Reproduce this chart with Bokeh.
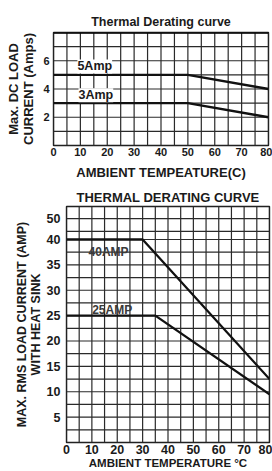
from bokeh.plotting import figure
from bokeh.models import FixedTicker, ColumnDataSource, LabelSet
from bokeh.core.properties import value
from bokeh.embed import file_html
from bokeh.resources import INLINE

FONT = "Liberation Sans"
INK = "#1a1a1a"
GRID = "#2a2a2a"

# ---------------- Chart 1 : DC load ----------------
dc_temp = [0, 50, 80]
dc_5amp = [5, 5, 4]
dc_3amp = [3, 3, 2]
dc_label_text = ["5Amp", "3Amp"]
dc_label_x = [8.9, 9.3]
dc_label_y = [5.6, 3.55]
dc_xticks = [0, 10, 20, 30, 40, 50, 60, 70, 80]
dc_yticks = [2, 4, 6]
dc_xgrid = [0, 5, 10, 15, 20, 25, 30, 35, 40, 45, 50, 55, 60, 65, 70, 75, 80]
dc_ygrid = [0, 1, 2, 3, 4, 5, 6, 7, 8]
dc_xlim = (0, 80)
dc_ylim = (0, 8)

# ---------------- Chart 2 : RMS load with heat sink ----------------
rms_temp_40 = [0, 30, 80]
rms_40amp = [40, 40, 12.5]
rms_temp_25 = [0, 35, 80]
rms_25amp = [25, 25, 9.5]
rms_label_text = ["40AMP", "25AMP"]
rms_label_x = [8.7, 10.1]
rms_label_y = [37.6, 26.1]
rms_xticks = [0, 10, 20, 30, 40, 50, 60, 70, 80]
rms_yticks = [5, 10, 15, 20, 25, 30, 35, 40, 44.1]
rms_ytick_labels = ["5", "10", "15", "20", "25", "30", "35", "40", "50"]
rms_xgrid = [0, 5, 10, 15, 20, 25, 30, 35, 40, 45, 50, 55, 60, 65, 70, 75, 80]
rms_ygrid = [0, 2.5, 5, 7.5, 10, 12.5, 15, 17.5, 20, 22.5, 25, 27.5, 30,
             32.5, 35, 37.5, 40, 41.6, 44.1, 46.5]
rms_xlim = (0, 80)
rms_ylim = (0, 46.5)


def style(p, title_size, tick_size, label_size):
    p.background_fill_color = "white"
    p.border_fill_color = "white"
    p.outline_line_color = INK
    p.outline_line_width = 1.4
    p.title.align = "center"
    p.title.text_font = FONT
    p.title.text_font_style = "bold"
    p.title.text_font_size = title_size
    p.title.text_color = INK
    p.grid.visible = False
    for ax in (p.xaxis, p.yaxis):
        ax.axis_line_color = None
        ax.major_tick_line_color = None
        ax.minor_tick_line_color = None
        ax.major_tick_out = 0
        ax.major_tick_in = 0
        ax.major_label_text_font = FONT
        ax.major_label_text_font_style = "bold"
        ax.major_label_text_font_size = tick_size
        ax.major_label_text_color = INK
        ax.axis_label_text_font = FONT
        ax.axis_label_text_font_style = "bold"
        ax.axis_label_text_font_size = label_size
        ax.axis_label_text_color = INK
        ax.axis_label_text_line_height = 1.0


def draw_grid(p, xgrid, ygrid, xlim, ylim):
    p.segment(x0=xgrid, x1=xgrid, y0=ylim[0], y1=ylim[1],
              line_color=GRID, line_width=1.2)
    p.segment(x0=xlim[0], x1=xlim[1], y0=ygrid, y1=ygrid,
              line_color=GRID, line_width=1.2)


# ---- figure 1
p1 = figure(width=272, height=182, x_range=dc_xlim, y_range=dc_ylim,
            output_backend="svg", toolbar_location=None,
            min_border_left=53, min_border_right=4,
            min_border_top=32, min_border_bottom=37,
            title="Thermal Derating curve")
style(p1, "12.5px", "11px", "13px")
p1.title.standoff = 7
p1.xaxis.ticker = FixedTicker(ticks=dc_xticks)
p1.yaxis.ticker = FixedTicker(ticks=dc_yticks)
p1.xaxis.major_label_standoff = 2
p1.yaxis.major_label_standoff = 4
p1.xaxis.axis_label_standoff = 6
p1.yaxis.axis_label_standoff = 4
p1.xaxis.axis_label = "AMBIENT TEMPEATURE(C)"
p1.yaxis.axis_label = "Max. DC LOAD\nCURRENT (Amps)"

draw_grid(p1, dc_xgrid, dc_ygrid, dc_xlim, dc_ylim)
# heavier top border of the upper chart
p1.segment(x0=dc_xlim[0], x1=dc_xlim[1], y0=dc_ylim[1], y1=dc_ylim[1],
           line_color="#000000", line_width=2.6)
p1.line(dc_temp, dc_5amp, line_color="#111111", line_width=2.3)
p1.line(dc_temp, dc_3amp, line_color="#111111", line_width=2.3)
src1 = ColumnDataSource(dict(x=dc_label_x, y=dc_label_y, t=dc_label_text))
p1.add_layout(LabelSet(x="x", y="y", text="t", source=src1,
                       text_font=value(FONT),
                       text_font_style="bold", text_font_size="12.5px",
                       text_color=INK, text_align="left",
                       text_baseline="middle",
                       background_fill_color="white"))

# ---- figure 2
p2 = figure(width=272, height=289, x_range=rms_xlim, y_range=rms_ylim,
            output_backend="svg", toolbar_location=None,
            min_border_left=66, min_border_right=3,
            min_border_top=24, min_border_bottom=29,
            title="THERMAL DERATING CURVE")
style(p2, "13px", "12.5px", "12.5px")
p2.title.standoff = 3
p2.xaxis.ticker = FixedTicker(ticks=rms_xticks)
p2.yaxis.ticker = FixedTicker(ticks=rms_yticks)
p2.yaxis.major_label_overrides = {t: s for t, s in zip(rms_yticks, rms_ytick_labels)}
p2.xaxis.major_label_standoff = 2
p2.yaxis.major_label_standoff = 6
p2.xaxis.axis_label_standoff = 0
p2.yaxis.axis_label_standoff = 1
p2.xaxis.axis_label = "AMBIENT TEMPERATURE °C"
p2.xaxis.axis_label_text_font_size = "11.5px"
p2.yaxis.axis_label = "MAX. RMS LOAD CURRENT (AMP)\nWITH HEAT SINK"

draw_grid(p2, rms_xgrid, rms_ygrid, rms_xlim, rms_ylim)
p2.line(rms_temp_40, rms_40amp, line_color="#111111", line_width=2.3)
p2.line(rms_temp_25, rms_25amp, line_color="#111111", line_width=2.3)
src2 = ColumnDataSource(dict(x=rms_label_x, y=rms_label_y, t=rms_label_text))
p2.add_layout(LabelSet(x="x", y="y", text="t", source=src2,
                       text_font=value(FONT),
                       text_font_style="bold", text_font_size="12px",
                       text_color="#3a3a3a", text_align="left",
                       text_baseline="middle", level="glyph"))

open("out.html", "w").write(file_html([p1, p2], INLINE))
